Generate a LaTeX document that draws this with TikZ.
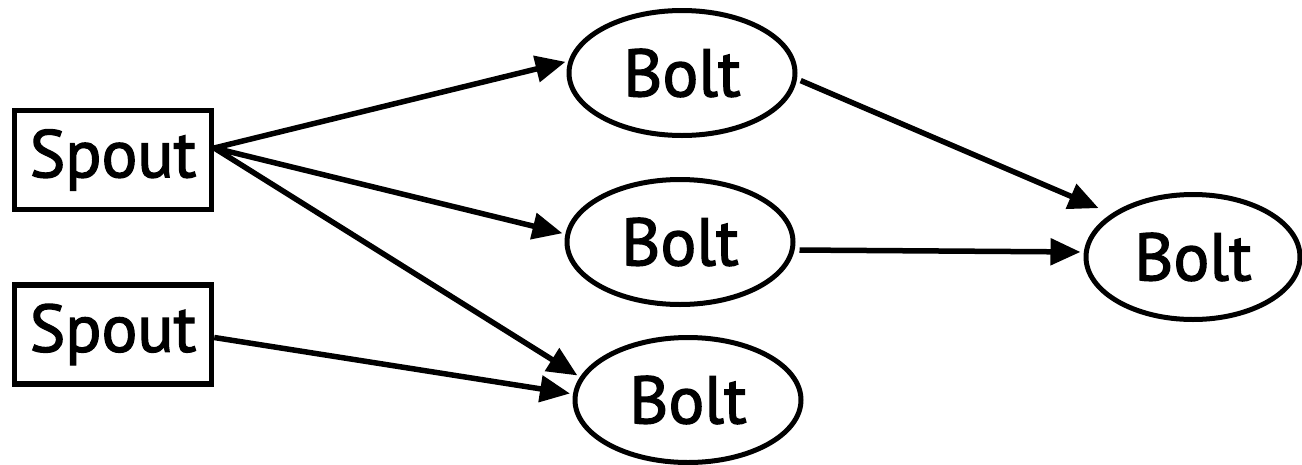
\documentclass[tikz,border=0pt]{standalone}
\usepackage{fontspec}
\setmainfont{PT Sans}[FakeBold=2]
\usetikzlibrary{shapes.geometric,arrows.meta}
\begin{document}
\begin{tikzpicture}[x=1pt,y=-1pt,
  every node/.style={font=\fontsize{67}{72}\selectfont},
  spoutbox/.style={draw,line width=5.5pt,minimum width=197pt,minimum height=99pt,inner sep=0pt},
  boltnode/.style={draw,ellipse,line width=5pt,minimum width=226pt,minimum height=125pt,inner sep=0pt},
  conn/.style={line width=5.5pt,shorten >=3pt,-{Triangle[length=30pt,width=26pt]}}]
\useasboundingbox (0,0) rectangle (1302,464);
\node[spoutbox] (s1) at (113,160) {Spout};
\node[spoutbox] (s2) at (113,334.5) {Spout};
\node[boltnode] (b1) at (682,73) {Bolt};
\node[boltnode] (b2) at (680,242) {Bolt};
\node[boltnode] (b3) at (688,400) {Bolt};
\node[boltnode,minimum width=214pt] (b4) at (1193,257) {Bolt};
\coordinate (s1o) at ([yshift=12pt]s1.east);
\coordinate (s2o) at ([yshift=-3pt]s2.east);
\draw[conn] (s1o) -- (b1.174);
\draw[conn] (s1o) -- (b2.176);
\draw[conn] (s1o) -- (b3.168);
\draw[conn] (s2o) -- (b3.177);
\draw[conn,shorten <=4pt,shorten >=14pt] (b1.-3) -- (b4.152);
\draw[conn,shorten <=4pt] ([yshift=-8pt]b2.east) -- ([yshift=5pt]b4.west);
\end{tikzpicture}
\end{document}
